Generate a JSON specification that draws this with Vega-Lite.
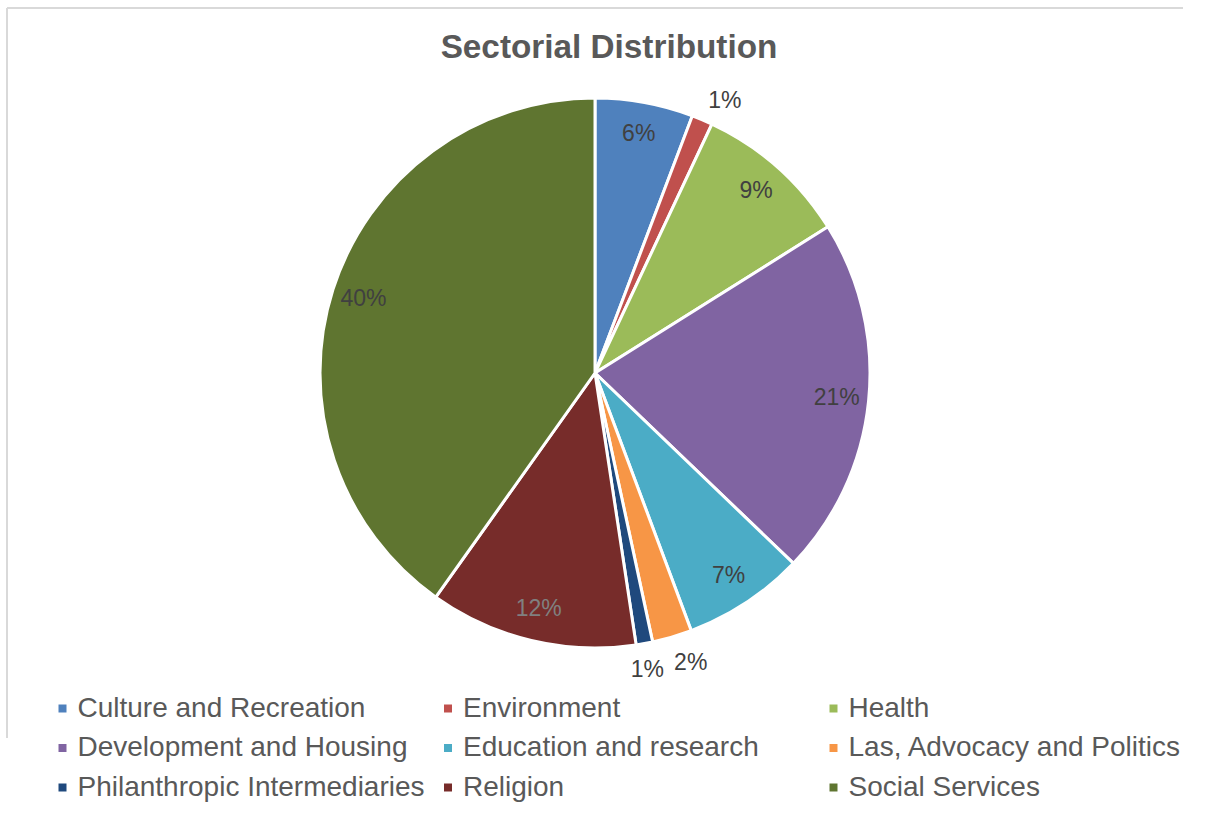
{
  "$schema": "https://vega.github.io/schema/vega-lite/v6.json",
  "width": 1176,
  "height": 730,
  "autosize": {"type": "none"},
  "padding": {"left": 7, "top": 8, "right": 22, "bottom": 75},
  "background": "white",
  "view": {"stroke": "#d9d9d9", "strokeWidth": 2, "strokeDash": [1176, 1906, 730, 0]},
  "config": {
    "view": {"stroke": "#d9d9d9", "strokeWidth": 2, "strokeDash": [1176, 1906, 730, 0]},
    "font": "Liberation Sans"
  },
  "title": {
    "text": "Sectorial Distribution",
    "fontSize": 33.3,
    "fontWeight": "bold",
    "color": "#595959",
    "font": "Liberation Sans",
    "anchor": "middle",
    "dx": 14,
    "offset": -57
  },
  "data": {
    "values": [
      {"sector": "Culture and Recreation", "value": 0.0576},
      {"sector": "Environment", "value": 0.0123},
      {"sector": "Health", "value": 0.0909},
      {"sector": "Development and Housing", "value": 0.2109},
      {"sector": "Education and research", "value": 0.0714},
      {"sector": "Las, Advocacy and Politics", "value": 0.0233},
      {"sector": "Philanthropic Intermediaries", "value": 0.0097},
      {"sector": "Religion", "value": 0.1222},
      {"sector": "Social Services", "value": 0.4017}
    ]
  },
  "transform": [{"window": [{"op": "row_number", "as": "idx"}]}],
  "encoding": {
    "theta": {"field": "value", "type": "quantitative", "stack": true},
    "order": {"field": "idx", "type": "quantitative"}
  },
  "layer": [
    {
      "mark": {"type": "arc", "outerRadius": 275, "stroke": "white", "strokeWidth": 3},
      "encoding": {
        "color": {
          "field": "sector",
          "type": "nominal",
          "scale": {
            "domain": ["Culture and Recreation", "Environment", "Health", "Development and Housing", "Education and research", "Las, Advocacy and Politics", "Philanthropic Intermediaries", "Religion", "Social Services"],
            "range": ["#4f81bd", "#c0504d", "#9bbb59", "#8064a2", "#4bacc6", "#f79646", "#1f497d", "#772c2a", "#5f7530"]
          },
          "legend": {
            "orient": "none",
            "legendX": 41.5,
            "legendY": 686.5,
            "direction": "horizontal",
            "columns": 3,
            "title": null,
            "symbolType": "square",
            "symbolSize": 64,
            "symbolStrokeWidth": 0,
            "labelFontSize": 28,
            "labelColor": "#595959",
            "labelFont": "Liberation Sans",
            "labelLimit": 600,
            "labelOffset": 1,
            "columnPadding": 8.5,
            "rowPadding": 11.5,
            "gridAlign": "all",
            "padding": 0
          }
        }
      }
    },
    {
      "mark": {"type": "text", "radius": 243, "fontSize": 23, "font": "Liberation Sans"},
      "encoding": {
        "detail": {"field": "sector", "type": "nominal"},
        "text": {"condition": {"test": "datum.value >= 0.05", "field": "value", "type": "quantitative", "format": ".0%"}, "value": ""},
        "color": {"condition": {"test": "datum.sector === 'Religion'", "value": "#808080"}, "value": "#404040"}
      }
    },
    {
      "mark": {"type": "text", "radius": 302, "fontSize": 23, "font": "Liberation Sans", "color": "#404040", "dx": 12, "dy": 6},
      "encoding": {
        "detail": {"field": "sector", "type": "nominal"},
        "text": {"condition": {"test": "datum.sector === 'Environment'", "field": "value", "type": "quantitative", "format": ".0%"}, "value": ""}
      }
    },
    {
      "mark": {"type": "text", "radius": 302, "fontSize": 23, "font": "Liberation Sans", "color": "#404040", "dx": 11},
      "encoding": {
        "detail": {"field": "sector", "type": "nominal"},
        "text": {"condition": {"test": "datum.sector === 'Las, Advocacy and Politics'", "field": "value", "type": "quantitative", "format": ".0%"}, "value": ""}
      }
    },
    {
      "mark": {"type": "text", "radius": 302, "fontSize": 23, "font": "Liberation Sans", "color": "#404040", "dx": -2},
      "encoding": {
        "detail": {"field": "sector", "type": "nominal"},
        "text": {"condition": {"test": "datum.sector === 'Philanthropic Intermediaries'", "field": "value", "type": "quantitative", "format": ".0%"}, "value": ""}
      }
    }
  ]
}
